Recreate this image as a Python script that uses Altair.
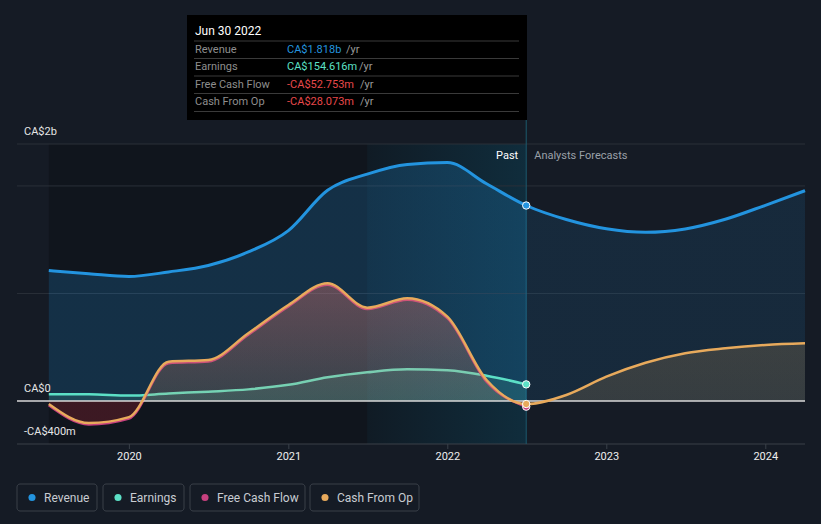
import altair as alt
import pandas as pd

# ---------------- data ----------------
past_dates = ["2019-06-30", "2019-09-30", "2019-12-31", "2020-03-31", "2020-06-30",
              "2020-09-30", "2020-12-31", "2021-03-31", "2021-06-30", "2021-09-30",
              "2021-12-31", "2022-03-31", "2022-06-30"]
revenue_past = [1213, 1184, 1158, 1200, 1260, 1386, 1585, 1960, 2110, 2200, 2217, 2020, 1818]
earnings_past = [62, 63, 50, 70, 87, 108, 150, 220, 267, 295, 285, 235, 154.616]
fcf_past = [-40, -218, -163, 352, 368, 617, 880, 1082, 855, 942, 770, 180, -52.753]
cfo_past = [-28, -205, -150, 366, 381, 630, 893, 1095, 868, 955, 784, 195, -28.073]

fc_dates = ["2022-06-30", "2022-09-30", "2022-12-31", "2023-03-31", "2023-06-30",
            "2023-09-30", "2023-12-31", "2024-03-31"]
revenue_fc = [1818, 1688, 1602, 1569, 1600, 1690, 1820, 1956]
cfo_fc = [-28.073, 56, 226, 355, 444, 490, 521, 537]

year_ticks = ["2020-01-01", "2021-01-01", "2022-01-01", "2023-01-01", "2024-01-01"]
year_labels = ["2020", "2021", "2022", "2023", "2024"]
grid_values = [1000, 2000, 2390]
y_label_values = [2390, 0, -400]
y_label_text = ["CA$2b", "CA$0", "-CA$400m"]

series_names = ["Revenue", "Earnings", "Free Cash Flow", "Cash From Op"]
series_colors = ["#2394df", "#5ce0c6", "#c7407f", "#e8aa5c"]
tooltip_date = "Jun 30 2022"
tooltip_values = ["CA$1.818b", "CA$154.616m", "-CA$52.753m", "-CA$28.073m"]
tooltip_value_colors = ["#2394df", "#5ce0c6", "#e8484b", "#e8484b"]
last_values = [1818, 154.616, -52.753, -28.073]
highlight_start = "2021-06-30"

FONT = "Roboto"

# ---------------- scales ----------------
X = alt.Scale(domain=[alt.DateTime(year=2019, month=4, date=18),
                      alt.DateTime(year=2024, month=3, date=31)], range=[17, 805])
Y = alt.Scale(domain=[-400, 2390], range=[444, 144], nice=False, zero=False)


def xe(f):
    return alt.X(f"{f}:T", scale=X, axis=None)


def ye(f):
    return alt.Y(f"{f}:Q", scale=Y, axis=None)


def grad_v(stops):
    return alt.Gradient(gradient="linear", x1=0, x2=0, y1=0, y2=1,
                        stops=[alt.GradientStop(color=c, offset=o) for o, c in stops])


def grad_h(stops):
    return alt.Gradient(gradient="linear", x1=0, x2=1, y1=0, y2=0,
                        stops=[alt.GradientStop(color=c, offset=o) for o, c in stops])


one = pd.DataFrame({"k": [0]})

rev_all = pd.DataFrame({"date": past_dates + fc_dates[1:], "v": revenue_past + revenue_fc[1:]})
cfo_all = pd.DataFrame({"date": past_dates + fc_dates[1:], "v": cfo_past + cfo_fc[1:]})
earn_df = pd.DataFrame({"date": past_dates, "v": earnings_past})
fcf_df = pd.DataFrame({"date": past_dates, "v": fcf_past})

layers = []

# past dark background
past_bg = pd.DataFrame({"s": [past_dates[0]], "e": [past_dates[-1]]})
layers.append(alt.Chart(past_bg).mark_rect(color="#000000", opacity=0.2).encode(
    x=xe("s"), x2="e:T", y=alt.value(144), y2=alt.value(444)))

# highlighted last year band
band = pd.DataFrame({"s": [highlight_start], "e": [past_dates[-1]]})
layers.append(alt.Chart(band).mark_rect(fill=grad_h([
    (0, "rgba(15,140,185,0.05)"), (1, "rgba(15,140,185,0.2)")])).encode(
    x=xe("s"), x2="e:T", y=alt.value(144), y2=alt.value(444)))

# gridlines
grid_df = pd.DataFrame({"v": grid_values})
layers.append(alt.Chart(grid_df).mark_rule(color="#2a3039", strokeWidth=1).encode(
    x=alt.value(17), x2=alt.value(805), y=ye("v")))

# x axis line and ticks
layers.append(alt.Chart(one).mark_rule(color="#3a4049", strokeWidth=1).encode(
    x=alt.value(17), x2=alt.value(805), y=alt.value(444)))
ticks_df = pd.DataFrame({"date": year_ticks, "label": year_labels})
layers.append(alt.Chart(ticks_df).mark_rule(color="#3a4049").encode(
    x=xe("date"), y=alt.value(444), y2=alt.value(449)))
layers.append(alt.Chart(ticks_df).mark_text(font=FONT, fontSize=11, color="#eeeeee",
                                            baseline="middle").encode(
    x=xe("date"), y=alt.value(457), text="label:N"))

# vertical divider
div = pd.DataFrame({"date": [past_dates[-1]]})
layers.append(alt.Chart(div).mark_rule(color="#1c5a6e", strokeWidth=1).encode(
    x=xe("date"), y=alt.value(120), y2=alt.value(444)))

# revenue area + line
layers.append(alt.Chart(rev_all).mark_area(interpolate="monotone", fill=grad_h([
    (0, "rgba(35,148,223,0.21)"), (0.631, "rgba(35,148,223,0.21)"),
    (0.632, "rgba(35,148,223,0.12)"), (1, "rgba(35,148,223,0.12)")])).encode(
    x=xe("date"), y=ye("v"), y2=alt.datum(0)))
layers.append(alt.Chart(rev_all).mark_line(interpolate="monotone", color=series_colors[0],
                                           strokeWidth=3).encode(x=xe("date"), y=ye("v")))

# earnings area + line
layers.append(alt.Chart(earn_df).mark_area(interpolate="monotone", color=series_colors[1],
                                           opacity=0.14).encode(
    x=xe("date"), y=ye("v"), y2=alt.datum(0)))
layers.append(alt.Chart(earn_df).mark_line(interpolate="monotone", color=series_colors[1],
                                           strokeWidth=2.5).encode(x=xe("date"), y=ye("v")))

# free cash flow area (pink above zero fading, red below zero) + line
fz = max(fcf_past) / (max(fcf_past) - min(fcf_past))
layers.append(alt.Chart(fcf_df).mark_area(interpolate="monotone", fill=grad_v([
    (0, "rgba(196,61,128,0.25)"), (fz - 0.001, "rgba(196,61,128,0.02)"),
    (fz, "rgba(175,35,50,0.28)"), (1, "rgba(175,35,50,0.28)")])).encode(
    x=xe("date"), y=ye("v"), y2=alt.datum(0)))
layers.append(alt.Chart(fcf_df).mark_line(interpolate="monotone", color=series_colors[2],
                                          strokeWidth=2.5).encode(x=xe("date"), y=ye("v")))

# cash from op area
cvals = cfo_past + cfo_fc[1:]
cz = max(cvals) / (max(cvals) - min(cvals))
layers.append(alt.Chart(cfo_all).mark_area(interpolate="monotone", fill=grad_v([
    (0, "rgba(232,170,92,0.2)"), (cz - 0.001, "rgba(232,170,92,0.15)"),
    (cz, "rgba(232,170,92,0)"), (1, "rgba(232,170,92,0)")])).encode(
    x=xe("date"), y=ye("v"), y2=alt.datum(0)))

# zero line
layers.append(alt.Chart(one).mark_rule(color="#d9d9d9", strokeWidth=1.5).encode(
    x=alt.value(17), x2=alt.value(805), y=alt.Y(datum=0, scale=Y, axis=None)))

# cash from op line
layers.append(alt.Chart(cfo_all).mark_line(interpolate="monotone", color=series_colors[3],
                                           strokeWidth=2.5).encode(x=xe("date"), y=ye("v")))

# end-point dots
dots = pd.DataFrame({"date": [past_dates[-1]] * 4, "v": last_values, "c": series_colors,
                     "o": [0, 1, 2, 3]})
layers.append(alt.Chart(dots).mark_point(filled=True, size=55, stroke="white",
                                         strokeWidth=1, opacity=1).encode(
    x=xe("date"), y=ye("v"), fill=alt.Fill("c:N", scale=None), order="o:Q"))

# y labels
ylab = pd.DataFrame({"v": y_label_values, "t": y_label_text})
layers.append(alt.Chart(ylab).mark_text(font=FONT, fontSize=11, color="#e6e6e6", align="left",
                                        baseline="middle", dy=-12).encode(
    x=alt.value(24), y=ye("v"), text="t:N"))

# past / forecast labels
layers.append(alt.Chart(div).mark_text(font=FONT, fontSize=11, color="#ffffff", align="right",
                                       baseline="middle", dx=-8, text="Past").encode(
    x=xe("date"), y=alt.value(156)))
layers.append(alt.Chart(div).mark_text(font=FONT, fontSize=11, color="#9aa0a8", align="left",
                                       baseline="middle", dx=8, text="Analysts Forecasts").encode(
    x=xe("date"), y=alt.value(156)))

# tooltip box
layers.append(alt.Chart(one).mark_rect(color="#000000").encode(
    x=alt.value(187), x2=alt.value(527), y=alt.value(15), y2=alt.value(120)))
layers.append(alt.Chart(one).mark_text(font=FONT, fontSize=12, color="#ffffff", align="left",
                                       baseline="middle", text=tooltip_date).encode(
    x=alt.value(195), y=alt.value(31)))
sep_y = [41, 58.5, 76, 93.5, 111.5]
for sy in sep_y:
    layers.append(alt.Chart(one).mark_rule(color="#3a3a3a", strokeWidth=1).encode(
        x=alt.value(194), x2=alt.value(519), y=alt.value(sy)))
row_y = [49.5, 67, 84.5, 102]
yr_x = [346, 359, 360, 360]
for i in range(4):
    layers.append(alt.Chart(one).mark_text(font=FONT, fontSize=11, color="#8e8e8e", align="left",
                                           baseline="middle", text=series_names[i]).encode(
        x=alt.value(195), y=alt.value(row_y[i])))
    layers.append(alt.Chart(one).mark_text(font=FONT, fontSize=11, color=tooltip_value_colors[i],
                                           align="left", baseline="middle",
                                           text=tooltip_values[i]).encode(
        x=alt.value(287), y=alt.value(row_y[i])))
    layers.append(alt.Chart(one).mark_text(font=FONT, fontSize=11, color="#9a9a9a", align="left",
                                           baseline="middle", text="/yr").encode(
        x=alt.value(yr_x[i]), y=alt.value(row_y[i])))

# legend
leg_x0 = [17, 103, 190, 310]
leg_x1 = [97, 184, 305, 419]
for i in range(4):
    layers.append(alt.Chart(one).mark_rect(fill="#151b25", stroke="#3a4049", strokeWidth=1,
                                           cornerRadius=3).encode(
        x=alt.value(leg_x0[i]), x2=alt.value(leg_x1[i]), y=alt.value(484), y2=alt.value(511)))
    layers.append(alt.Chart(one).mark_point(filled=True, size=50, color=series_colors[i],
                                            opacity=1).encode(
        x=alt.value(leg_x0[i] + 15), y=alt.value(497.5)))
    layers.append(alt.Chart(one).mark_text(font=FONT, fontSize=12, color="#c8ccd2", align="left",
                                           baseline="middle", text=series_names[i]).encode(
        x=alt.value(leg_x0[i] + 27), y=alt.value(497.5)))

chart = alt.layer(*layers).properties(
    width=821, height=524, padding=0, background="#151b25",
    autosize=alt.AutoSizeParams(type="none"),
).configure_view(stroke=None)

chart.save("out.html", embed_options={"renderer": "svg", "actions": False})
